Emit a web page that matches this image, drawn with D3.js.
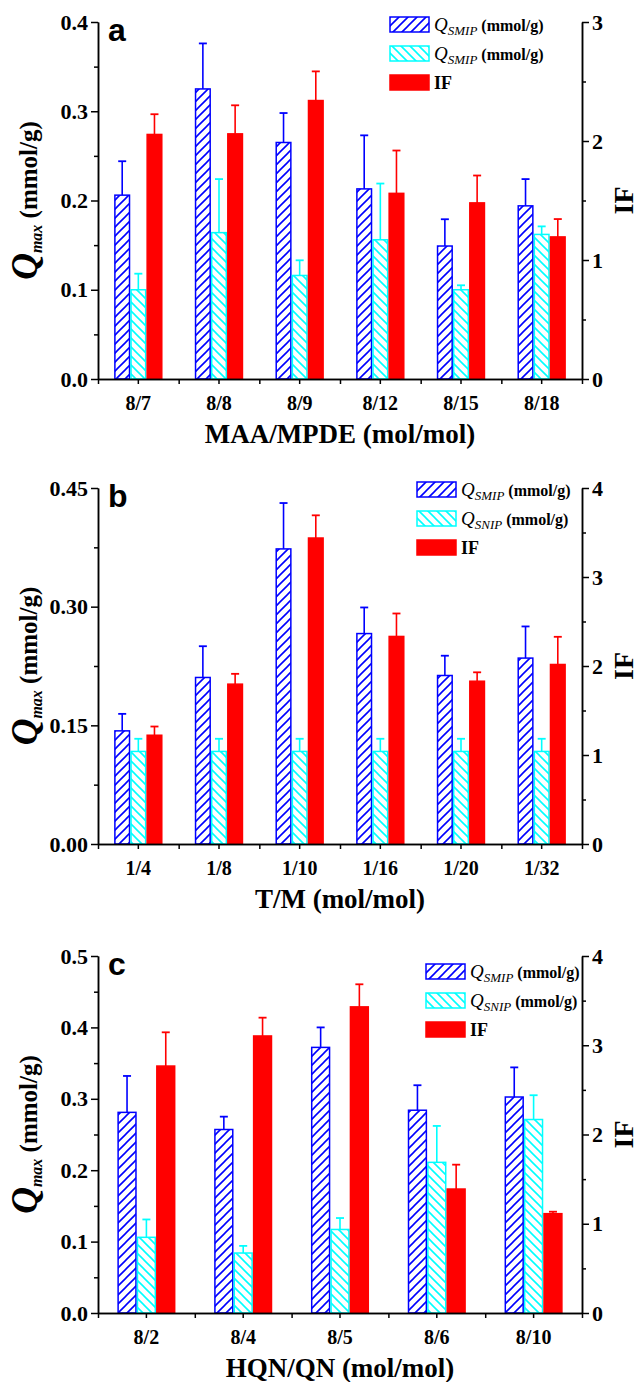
<!DOCTYPE html>
<html>
<head>
<meta charset="utf-8">
<script src="https://cdn.jsdelivr.net/npm/d3@7"></script>
<style>
  body { margin: 0; background: #fff; }
  svg text { font-family: "Liberation Serif", "Times New Roman", serif; font-weight: bold; }
</style>
</head>
<body>
<svg id="chart" width="639" height="1382"></svg>
<script>

// DATA - panel a
var catsA = ['8/7', '8/8', '8/9', '8/12', '8/15', '8/18'];
var smipA = [0.206, 0.325, 0.265, 0.213, 0.149, 0.194];
var smipErrA = [0.038, 0.051, 0.033, 0.060, 0.030, 0.030];
var snipA = [0.100, 0.164, 0.116, 0.156, 0.100, 0.162];
var snipErrA = [0.018, 0.060, 0.017, 0.063, 0.005, 0.009];
var ifA = [2.055, 2.06, 2.34, 1.56, 1.48, 1.194];
var ifErrA = [0.17, 0.24, 0.245, 0.36, 0.23, 0.15];
var leftTicksA = [0, 0.1, 0.2, 0.3, 0.4];
var rightTicksA = [0, 1, 2, 3];

// DATA - panel b
var catsB = ['1/4', '1/8', '1/10', '1/16', '1/20', '1/32'];
var smipB = [0.143, 0.2105, 0.373, 0.266, 0.213, 0.235];
var smipErrB = [0.0215, 0.0395, 0.058, 0.033, 0.025, 0.040];
var snipB = [0.117, 0.117, 0.117, 0.117, 0.117, 0.117];
var snipErrB = [0.016, 0.016, 0.016, 0.016, 0.016, 0.016];
var ifB = [1.222, 1.796, 3.438, 2.332, 1.829, 2.017];
var ifErrB = [0.098, 0.116, 0.255, 0.258, 0.10, 0.311];
var leftTicksB = [0, 0.15, 0.30, 0.45];
var rightTicksB = [0, 1, 2, 3, 4];

// DATA - panel c
var catsC = ['8/2', '8/4', '8/5', '8/6', '8/10'];
var smipC = [0.281, 0.257, 0.372, 0.284, 0.3025];
var smipErrC = [0.051, 0.018, 0.028, 0.035, 0.0415];
var snipC = [0.106, 0.084, 0.117, 0.211, 0.271];
var snipErrC = [0.025, 0.010, 0.016, 0.051, 0.034];
var ifC = [2.767, 3.104, 3.43, 1.389, 1.113];
var ifErrC = [0.378, 0.205, 0.253, 0.273, 0.022];
var leftTicksC = [0, 0.1, 0.2, 0.3, 0.4, 0.5];
var rightTicksC = [0, 1, 2, 3, 4];

var BLUE = '#0000ff', CYAN = '#00ffff', RED = '#ff0000';

var svg = d3.select('#chart');

// HATCH PATTERNS
var defs = svg.append('defs');
function hatch(id, color, dir) {
  var s = 9;
  var p = defs.append('pattern')
    .attr('id', id)
    .attr('patternUnits', 'userSpaceOnUse')
    .attr('width', s).attr('height', s);
  p.append('rect').attr('width', s).attr('height', s).attr('fill', '#fff');
  var d = dir > 0
    ? 'M0,' + s + 'L' + s + ',0 M-2,2 L2,-2 M' + (s - 2) + ',' + (s + 2) + 'L' + (s + 2) + ',' + (s - 2)
    : 'M0,0L' + s + ',' + s + ' M-2,' + (s - 2) + 'L2,' + (s + 2) + ' M' + (s - 2) + ',-2L' + (s + 2) + ',2';
  p.append('path').attr('d', d).attr('stroke', color).attr('stroke-width', 1.6);
}
hatch('hBlue', BLUE, 1);
hatch('hCyan', CYAN, -1);

function drawPanel(cfg) {
  var x0 = 98, x1 = 582;
  var g = svg.append('g');

  var x = d3.scaleBand().domain(cfg.cats).range([x0, x1]).padding(0);
  var xi = d3.scaleLinear().domain([0, cfg.cats.length]).range([x0, x1]);
  var yL = d3.scaleLinear().domain([0, cfg.leftMax]).range([cfg.bottom, cfg.top]);
  var yR = d3.scaleLinear().domain([0, cfg.rightMax]).range([cfg.bottom, cfg.top]);
  var bw = x.bandwidth() * 0.2;

  var series = [
    { vals: cfg.smip, errs: cfg.smipErr, y: yL, off: -1.5, fill: 'url(#hBlue)', stroke: BLUE },
    { vals: cfg.snip, errs: cfg.snipErr, y: yL, off: -0.5, fill: 'url(#hCyan)', stroke: CYAN },
    { vals: cfg.ifv, errs: cfg.ifErr, y: yR, off: 0.5, fill: RED, stroke: RED }
  ];

  series.forEach(function(s) {
    var rows = cfg.cats.map(function(c, i) { return { c: c, v: s.vals[i], e: s.errs[i] }; });
    var cx = function(d) { return x(d.c) + x.bandwidth() / 2 + s.off * bw; };

    // error bars (upper only)
    g.selectAll(null).data(rows).enter().append('line')
      .attr('x1', function(d) { return cx(d) + bw / 2; })
      .attr('x2', function(d) { return cx(d) + bw / 2; })
      .attr('y1', function(d) { return s.y(d.v); })
      .attr('y2', function(d) { return s.y(d.v + d.e); })
      .attr('stroke', s.stroke).attr('stroke-width', 1.6);
    g.selectAll(null).data(rows).enter().append('line')
      .attr('x1', function(d) { return cx(d) + bw / 2 - 4; })
      .attr('x2', function(d) { return cx(d) + bw / 2 + 4; })
      .attr('y1', function(d) { return s.y(d.v + d.e); })
      .attr('y2', function(d) { return s.y(d.v + d.e); })
      .attr('stroke', s.stroke).attr('stroke-width', 1.8);

    g.selectAll(null).data(rows).enter().append('rect')
      .attr('x', function(d) { return cx(d) + 0.75; })
      .attr('y', function(d) { return s.y(d.v); })
      .attr('width', bw - 1.5)
      .attr('height', function(d) { return cfg.bottom - s.y(d.v); })
      .attr('fill', s.fill)
      .attr('stroke', s.stroke).attr('stroke-width', 1.5);
  });

  // AXES
  function styleAxis(a, fs) {
    a.selectAll('path, line').attr('stroke', '#000').attr('stroke-width', 1.5);
    a.selectAll('text').attr('fill', '#000').style('font-size', fs + 'px');
  }
  var fmt = d3.format(cfg.fmt);

  var la = g.append('g').attr('transform', 'translate(' + x0 + ',0)')
    .call(d3.axisLeft(yL).tickValues(cfg.leftTicks).tickFormat(fmt).tickSize(7).tickSizeOuter(0).tickPadding(3));
  styleAxis(la, 22);
  var lm = g.append('g').attr('transform', 'translate(' + x0 + ',0)')
    .call(d3.axisLeft(yL).tickValues(cfg.leftMinor).tickFormat('').tickSize(4).tickSizeOuter(0));
  styleAxis(lm, 22);

  var ra = g.append('g').attr('transform', 'translate(' + x1 + ',0)')
    .call(d3.axisRight(yR).tickValues(cfg.rightTicks).tickFormat(d3.format('d')).tickSize(7).tickSizeOuter(0).tickPadding(3));
  styleAxis(ra, 22);
  var rm = g.append('g').attr('transform', 'translate(' + x1 + ',0)')
    .call(d3.axisRight(yR).tickValues(cfg.rightMinor).tickFormat('').tickSize(4).tickSizeOuter(0));
  styleAxis(rm, 22);

  var ba = g.append('g').attr('transform', 'translate(0,' + cfg.bottom + ')')
    .call(d3.axisBottom(x).tickSize(5).tickSizeOuter(0).tickPadding(12));
  styleAxis(ba, 20);
  var bm = g.append('g').attr('transform', 'translate(0,' + cfg.bottom + ')')
    .call(d3.axisBottom(xi).tickValues(d3.range(cfg.cats.length + 1)).tickFormat('').tickSize(5).tickSizeOuter(0));
  styleAxis(bm, 20);

  // axis titles
  g.append('text')
    .attr('x', (x0 + x1) / 2).attr('y', cfg.bottom + 64)
    .attr('text-anchor', 'middle').style('font-size', '27px')
    .text(cfg.xTitle);

  var yt = g.append('text')
    .attr('transform', 'translate(37,' + ((cfg.top + cfg.bottom) / 2) + ') rotate(-90)')
    .attr('text-anchor', 'middle');
  yt.append('tspan').style('font-size', '37px').style('font-style', 'italic').text('Q');
  yt.append('tspan').style('font-size', '16px').style('font-style', 'italic').attr('dy', 5).text('max');
  yt.append('tspan').style('font-size', '25px').attr('dy', -5).text(' (mmol/g)');

  g.append('text')
    .attr('transform', 'translate(633,' + ((cfg.top + cfg.bottom) / 2) + ') rotate(-90)')
    .attr('text-anchor', 'middle').style('font-size', '28px')
    .text('IF');

  // panel letter
  g.append('text')
    .attr('x', 108).attr('y', cfg.top + 19)
    .style('font-family', '"Liberation Sans", Arial, sans-serif')
    .style('font-size', '32px')
    .text(cfg.letter);

  // LEGEND
  var lg = g.append('g').attr('transform', 'translate(' + cfg.legX + ',' + cfg.legY + ')');
  var items = [
    { fill: 'url(#hBlue)', stroke: BLUE, sub: cfg.sub1 },
    { fill: 'url(#hCyan)', stroke: CYAN, sub: cfg.sub2 },
    { fill: RED, stroke: RED, sub: null }
  ];
  items.forEach(function(it, i) {
    var yy = i * 29;
    lg.append('rect').attr('x', 0).attr('y', yy).attr('width', 39).attr('height', 15)
      .attr('fill', it.fill).attr('stroke', it.stroke).attr('stroke-width', 1.5);
    var t = lg.append('text').attr('x', 44).attr('y', yy + 14);
    if (it.sub) {
      t.append('tspan').style('font-size', '19px').style('font-style', 'italic').style('font-weight', 'normal').text('Q');
      t.append('tspan').style('font-size', '13px').style('font-style', 'italic').style('font-weight', 'normal').attr('dy', 4).text(it.sub);
      t.append('tspan').style('font-size', '16px').attr('dy', -4).text(' (mmol/g)');
    } else {
      t.append('tspan').style('font-size', '18px').text('IF');
    }
  });
}

drawPanel({
  letter: 'a', cats: catsA, smip: smipA, smipErr: smipErrA, snip: snipA, snipErr: snipErrA,
  ifv: ifA, ifErr: ifErrA, top: 22, bottom: 379, leftMax: 0.4, rightMax: 3,
  leftTicks: leftTicksA, leftMinor: [0.05, 0.15, 0.25, 0.35], rightTicks: rightTicksA, rightMinor: [0.5, 1.5, 2.5],
  fmt: '.1f', xTitle: 'MAA/MPDE (mol/mol)', legX: 390, legY: 17, sub1: 'SMIP', sub2: 'SMIP'
});

drawPanel({
  letter: 'b', cats: catsB, smip: smipB, smipErr: smipErrB, snip: snipB, snipErr: snipErrB,
  ifv: ifB, ifErr: ifErrB, top: 488, bottom: 844, leftMax: 0.45, rightMax: 4,
  leftTicks: leftTicksB, leftMinor: [0.075, 0.225, 0.375], rightTicks: rightTicksB, rightMinor: [0.5, 1.5, 2.5, 3.5],
  fmt: '.2f', xTitle: 'T/M (mol/mol)', legX: 417, legY: 482, sub1: 'SMIP', sub2: 'SNIP'
});

drawPanel({
  letter: 'c', cats: catsC, smip: smipC, smipErr: smipErrC, snip: snipC, snipErr: snipErrC,
  ifv: ifC, ifErr: ifErrC, top: 956, bottom: 1313, leftMax: 0.5, rightMax: 4,
  leftTicks: leftTicksC, leftMinor: [0.05, 0.15, 0.25, 0.35, 0.45], rightTicks: rightTicksC, rightMinor: [0.5, 1.5, 2.5, 3.5],
  fmt: '.1f', xTitle: 'HQN/QN (mol/mol)', legX: 426, legY: 964, sub1: 'SMIP', sub2: 'SNIP'
});

</script>
</body>
</html>
